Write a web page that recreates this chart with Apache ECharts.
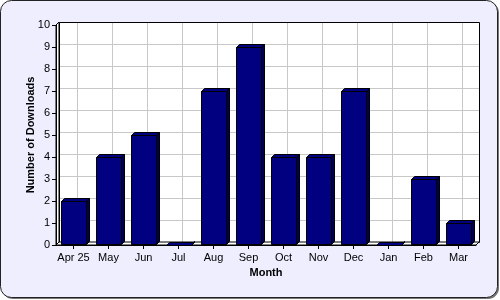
<!DOCTYPE html>
<html><head><meta charset="utf-8">
<script src="https://cdn.jsdelivr.net/npm/echarts@6/dist/echarts.min.js"></script>
<style>html,body{margin:0;padding:0;background:#fff}#c{width:500px;height:300px}</style>
</head><body><div id="c"></div>
<script>
const months = ['Apr 25','May','Jun','Jul','Aug','Sep','Oct','Nov','Dec','Jan','Feb','Mar'];
const downloads = [2,4,5,0,7,9,4,4,7,0,3,1];
const yTicks = [0,1,2,3,4,5,6,7,8,9,10];

const D = 3; // 3D depth in px
const FONT = '"Liberation Sans", Arial, sans-serif';

const chart = echarts.init(document.getElementById('c'), null, {renderer:'canvas'});

function frameRender(params, api) {
  const children = [];
  const n = months.length;
  const bl = api.coord([0, 0]);
  const half = api.size([1, 0])[0] / 2;
  const xL = bl[0] - half, xR = api.coord([n - 1, 0])[0] + half;
  const yB = bl[1], yT = api.coord([0, yTicks[yTicks.length - 1]])[1];
  children.push({type:'rect', shape:{x:xL + D, y:yT - D, width:xR - xL, height:yB - yT},
    style:{fill:'#fff', stroke:null}});
  yTicks.forEach(t => {
    const y = Math.round(api.coord([0, t])[1] - D) + 0.5;
    children.push({type:'line', shape:{x1:xL + D, y1:y, x2:xR + D, y2:y}, style:{stroke:'#c8c8c8', lineWidth:1}});
  });
  months.forEach((m, i) => {
    const x = Math.round(api.coord([i, 0])[0] + D) + 0.5;
    children.push({type:'line', shape:{x1:x, y1:yT - D, x2:x, y2:yB - D}, style:{stroke:'#c8c8c8', lineWidth:1}});
  });
  children.push({type:'rect', shape:{x:Math.round(xL + D) + 0.5, y:Math.round(yT - D) + 0.5, width:Math.round(xR - xL), height:Math.round(yB - yT)},
    style:{fill:null, stroke:'#000', lineWidth:1}});
  children.push({type:'polygon', shape:{points:[[xL, yT],[xL + D, yT - D],[xL + D, yB - D],[xL, yB]]},
    style:{fill:'#fff', stroke:'#000', lineWidth:1}});
  children.push({type:'polygon', shape:{points:[[xL, yB],[xL + D, yB - D],[xR + D, yB - D],[xR, yB]]},
    style:{fill:'#fff', stroke:'#000', lineWidth:1}});
  return {type:'group', children};
}

function barRender(params, api) {
  const i = api.value(0), v = api.value(1);
  const top = api.coord([i, v]);
  const base = api.coord([i, 0]);
  const bw = api.size([1, 0])[0] * 0.71;
  const x0 = Math.round(top[0] - bw / 2) + 0.5, x1 = x0 + Math.round(bw);
  const y = Math.round(top[1]) + 0.5, y0 = Math.round(base[1]) - 0.5;
  const st = {stroke:'#000', lineWidth:1};
  return {type:'group', children:[
    {type:'polygon', shape:{points:[[x1, y],[x1 + D, y - D],[x1 + D, y0 - D],[x1, y0]]}, style:Object.assign({fill:'#000050'}, st)},
    {type:'polygon', shape:{points:[[x0, y],[x0 + D, y - D],[x1 + D, y - D],[x1, y]]}, style:Object.assign({fill:'#000080'}, st)},
    {type:'rect', shape:{x:x0, y:y, width:x1 - x0, height:Math.max(0, y0 - y)}, style:Object.assign({fill:'#000080'}, st)}
  ]};
}

chart.setOption({
  animation:false,
  backgroundColor:'transparent',
  graphic:[
    {type:'rect', z:-10, shape:{x:2, y:2, width:497, height:297, r:11}, style:{fill:'#777'}},
    {type:'rect', z:-9, shape:{x:0.5, y:0.5, width:497, height:297, r:11}, style:{fill:'#eeeeff', stroke:'#222', lineWidth:1}}
  ],
  grid:{left:56, right:24, top:25, bottom:55},
  xAxis:{type:'category', data:months,
    name:'Month', nameLocation:'middle', nameGap:22,
    nameTextStyle:{fontFamily:FONT, fontSize:11, fontWeight:'bold', color:'#000'},
    axisLine:{show:true, lineStyle:{color:'#000', width:1}},
    axisTick:{show:true, alignWithLabel:true, length:4, lineStyle:{color:'#000'}},
    axisLabel:{fontFamily:FONT, fontSize:11, color:'#000', margin:7, interval:0},
    splitLine:{show:false}, z:5},
  yAxis:{type:'value', min:0, max:10, interval:1,
    name:'Number of Downloads', nameLocation:'middle', nameGap:20, nameRotate:90, nameMoveOverlap:false,
    nameTextStyle:{fontFamily:FONT, fontSize:11, fontWeight:'bold', color:'#000'},
    axisLine:{show:true, lineStyle:{color:'#000', width:1}},
    axisTick:{show:true, length:4, lineStyle:{color:'#000'}},
    axisLabel:{fontFamily:FONT, fontSize:11, color:'#000', margin:6},
    splitLine:{show:false}, z:5},
  series:[
    {type:'custom', name:'frame', z:1, silent:true, renderItem:frameRender, data:[[0,0]], clip:false},
    {type:'custom', name:'downloads', z:3, renderItem:barRender, clip:false,
      data:downloads.map((v, i) => [i, v])}
  ]
});
</script></body></html>
